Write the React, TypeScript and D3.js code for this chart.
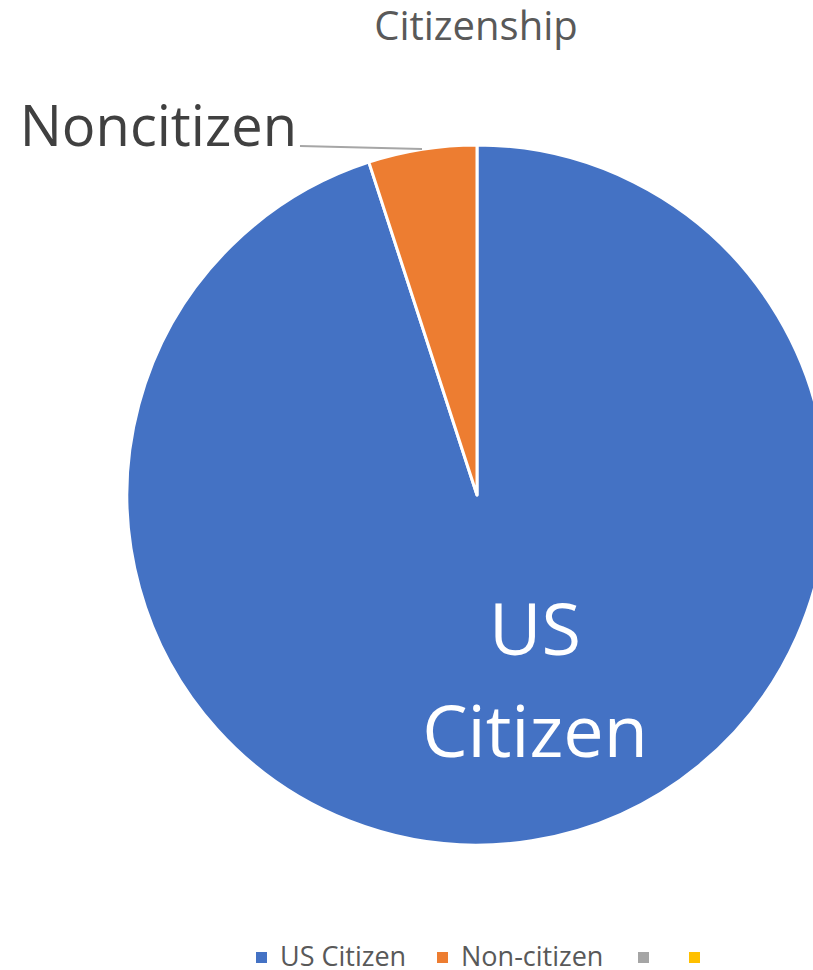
import React from "react";
import * as d3 from "d3";

const categories = ["US Citizen", "Non-citizen", "", ""];
const values = [95, 5, 0, 0];
const colors = ["#4472c4", "#ed7d31", "#a5a5a5", "#ffc000"];
const title = "Citizenship";

const W = 813;
const H = 970;
const cx = 477;
const cy = 495;
const R = 350;

export default function App() {
  const data = categories.map((c, i) => ({ name: c, value: values[i], color: colors[i] }));
  const pie = d3.pie<any>().sort(null).value((d) => d.value);
  const arcs = pie(data);
  const arc = d3.arc<any>().innerRadius(0).outerRadius(R);

  const legendX = [256, 437, 638, 689];
  const font = "'Open Sans', sans-serif";

  return (
    <svg
      width={W}
      height={H}
      style={{ position: "absolute", left: 0, top: 0, background: "#fff" }}
    >
      <text x={476} y={40} textAnchor="middle" fontFamily={font} fontSize={40} fill="#595959">
        {title}
      </text>
      <g transform={`translate(${cx},${cy})`}>
        {arcs
          .filter((a) => a.data.value > 0)
          .map((a, i) => (
            <path key={i} d={arc(a) as string} fill={a.data.color} stroke="#fff" strokeWidth={3} strokeLinejoin="round" />
          ))}
      </g>
      <line x1={300} y1={146} x2={422} y2={149} stroke="#a6a6a6" strokeWidth={2} />
      <text x={297} y={146} textAnchor="end" fontFamily={font} fontSize={56} fill="#404040">
        Noncitizen
      </text>
      <text x={535} y={655} textAnchor="middle" fontFamily={font} fontSize={72} fill="#fff">
        US
      </text>
      <text x={535} y={757} textAnchor="middle" fontFamily={font} fontSize={72} fill="#fff">
        Citizen
      </text>
      {data.map((d, i) => (
        <g key={i}>
          <rect x={legendX[i]} y={952} width={11} height={11} fill={d.color} />
          <text x={legendX[i] + 24} y={966} fontFamily={font} fontSize={27} fill="#595959">
            {d.name}
          </text>
        </g>
      ))}
    </svg>
  );
}
